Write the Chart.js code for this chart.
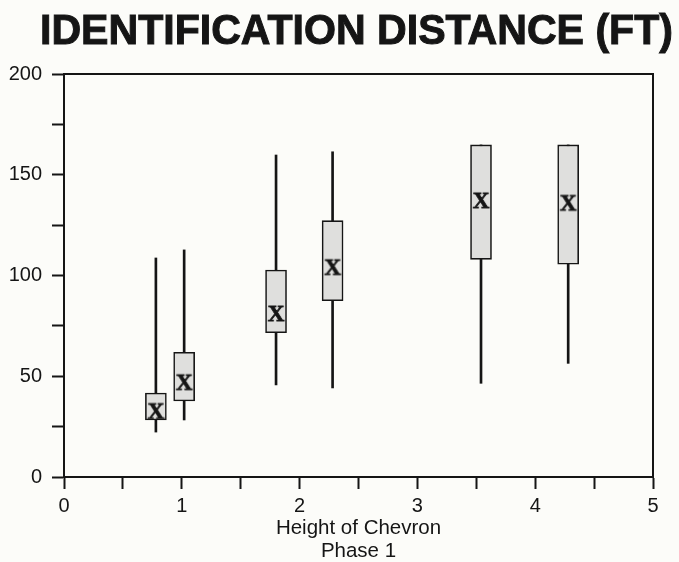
<!DOCTYPE html>
<html>
<head>
<meta charset="utf-8">
<script src="https://cdn.jsdelivr.net/npm/chart.js@4"></script>
<style>
  html, body { margin: 0; padding: 0; background: #fcfcf9; }
  canvas { display: block; }
</style>
</head>
<body>
<canvas id="chart" width="679" height="562"></canvas>
<script>
// Chevron height groups and the identification-distance summary for each
const heights       = [0.78, 1.02, 1.80, 2.28, 3.54, 4.28];
const lowest        = [22.3, 28.3, 45.7, 44.2, 46.5, 56.4];
const lowerQuartile = [28.3, 37.7, 71.6, 87.5, 108.0, 105.6];
const upperQuartile = [41.7, 61.9, 102.7, 127.2, 164.8, 164.8];
const highest       = [108.7, 112.7, 159.8, 161.4, 164.8, 164.8];
const means         = [33.0, 47.3, 81.4, 104.4, 137.5, 136.3];

const yLabels = ['0', '50', '100', '150', '200'];
const xLabels = ['0', '1', '2', '3', '4', '5'];

const TITLE = 'IDENTIFICATION DISTANCE (FT)';
const INK = '#151515';

// Heavy serif "X" used as the marker for each mean
function makeMeanMarker() {
  const c = document.createElement('canvas');
  c.width = 28; c.height = 28;
  const g = c.getContext('2d');
  g.fillStyle = INK;
  g.strokeStyle = INK;
  g.lineWidth = 0.8;
  g.font = 'bold 23px "Liberation Serif", "Times New Roman", serif';
  g.textAlign = 'center';
  g.textBaseline = 'alphabetic';
  g.fillText('X', 14, 21.5);
  g.strokeText('X', 14, 21.5);
  return c;
}

// Top and right edges of the plotting frame
const framePlugin = {
  id: 'frame',
  beforeDatasetsDraw(chart) {
    const { ctx, chartArea: a } = chart;
    ctx.save();
    ctx.strokeStyle = INK;
    ctx.lineWidth = 2;
    ctx.beginPath();
    ctx.moveTo(a.left, a.top);
    ctx.lineTo(a.right, a.top);
    ctx.lineTo(a.right, a.bottom);
    ctx.stroke();
    ctx.restore();
  }
};

// Large heading in a heavy bold sans, fitted to its line
const headingPlugin = {
  id: 'heading',
  afterDraw(chart) {
    const ctx = chart.ctx;
    ctx.save();
    ctx.font = 'bold 42px "Liberation Sans", Arial, sans-serif';
    const w = ctx.measureText(TITLE).width;
    const left = 40, right = 673;
    ctx.translate(left, 44);
    ctx.scale((right - left) / w, 1);
    ctx.fillStyle = INK;
    ctx.strokeStyle = INK;
    ctx.lineWidth = 1;
    ctx.textBaseline = 'alphabetic';
    ctx.fillText(TITLE, 0, 0);
    ctx.strokeText(TITLE, 0, 0);
    ctx.restore();
  }
};

const tickFont = { family: '"Liberation Sans", Arial, sans-serif', size: 20 };

new Chart(document.getElementById('chart'), {
  type: 'bar',
  data: {
    datasets: [
      {
        type: 'scatter',
        data: heights.map((x, i) => ({ x, y: means[i] })),
        pointStyle: makeMeanMarker(),
        pointRadius: 12,
        pointHoverRadius: 12
      },
      {
        type: 'bar',
        data: heights.map((x, i) => ({ x, y: [lowerQuartile[i], upperQuartile[i]] })),
        backgroundColor: '#dfdfdd',
        borderColor: INK,
        borderWidth: 1.6,
        borderSkipped: false,
        barThickness: 21,
        grouped: false
      },
      {
        type: 'bar',
        data: heights.map((x, i) => ({ x, y: [lowest[i], highest[i]] })),
        backgroundColor: INK,
        borderWidth: 0,
        barThickness: 2,
        grouped: false
      }
    ]
  },
  options: {
    responsive: false,
    animation: false,
    layout: { padding: { top: 74, right: 26, left: 0, bottom: 0 } },
    plugins: {
      legend: { display: false },
      tooltip: { enabled: false },
      title: { display: false }
    },
    scales: {
      x: {
        type: 'linear',
        min: 0,
        max: 5,
        offset: false,
        grid: { offset: false, drawOnChartArea: false, drawTicks: true, tickLength: 12, tickWidth: 2, tickColor: INK },
        border: { color: INK, width: 2 },
        ticks: {
          stepSize: 0.5,
          autoSkip: false,
          maxRotation: 0,
          padding: 5,
          color: INK,
          font: tickFont,
          callback: v => (Number.isInteger(v) ? xLabels[v] : '')
        },
        title: {
          display: true,
          text: ['Height of Chevron', 'Phase 1'],
          color: INK,
          font: { family: '"Liberation Sans", Arial, sans-serif', size: 20.5, lineHeight: 1.08 },
          padding: { top: 0, bottom: 0 }
        },
        afterFit: s => { s.height = 85; }
      },
      y: {
        min: 0,
        max: 200,
        grid: { drawOnChartArea: false, drawTicks: true, tickLength: 12, tickWidth: 2, tickColor: INK },
        border: { color: INK, width: 2 },
        ticks: {
          stepSize: 25,
          padding: 10,
          color: INK,
          font: tickFont,
          callback: v => (v % 50 === 0 ? yLabels[v / 50] : '')
        },
        afterFit: s => { s.width = 64; }
      }
    }
  },
  plugins: [framePlugin, headingPlugin]
});
</script>
</body>
</html>
